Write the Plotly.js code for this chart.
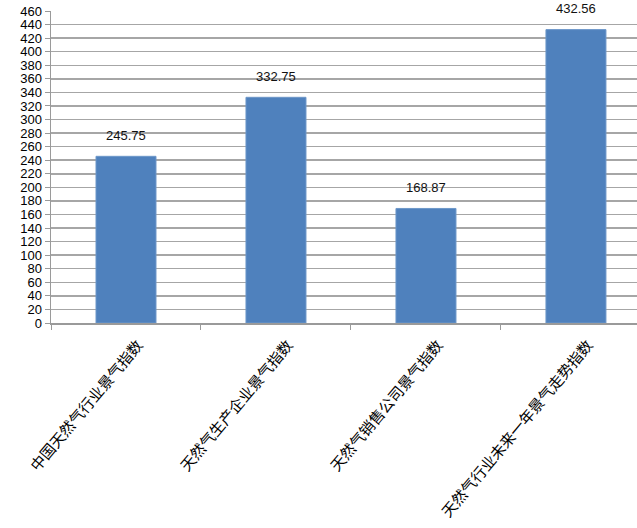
<!DOCTYPE html>
<html><head><meta charset="utf-8">
<script src="https://cdn.plot.ly/plotly-3.0.1.min.js"></script>
<style>html,body{margin:0;padding:0;background:#fff}</style>
</head><body><div id="chart" style="width:637px;height:528px"></div>
<script>
const categories = ["中国天然气行业景气指数","天然气生产企业景气指数","天然气销售公司景气指数","天然气行业未来一年景气走势指数"];
const values = [245.75, 332.75, 168.87, 432.56];
const valueLabels = ["245.75","332.75","168.87","432.56"];

const trace = {
  type: 'bar', x: categories, y: values, width: 0.4,
  marker: {color: '#4F81BD', line: {color: '#6d97c9', width: 1}},
  hoverinfo: 'none'
};
const annotations = categories.map((c, i) => ({
  x: c, y: values[i], text: valueLabels[i], showarrow: false, yshift: 21,
  font: {family: 'Liberation Sans, Arial', size: 13, color: '#111'}
}));
const layout = {
  width: 637, height: 528,
  margin: {l: 51, r: 0, t: 11, b: 205},
  paper_bgcolor: '#fff', plot_bgcolor: '#fff',
  showlegend: false,
  bargap: 0.6,
  xaxis: {
    type: 'category', range: [-0.5, 3.407],
    showline: true, linecolor: '#9a9a9a', linewidth: 1.5,
    ticks: 'outside', tickson: 'boundaries', ticklen: 5, tickcolor: '#9a9a9a',
    tickangle: -50, showgrid: false,
    ticklabelstandoff: 6, ticklabelshift: 12,
    tickfont: {family: 'Noto Sans CJK SC', size: 15, color: '#000'}
  },
  yaxis: {
    range: [0, 460], dtick: 20, tick0: 0,
    showline: true, linecolor: '#9a9a9a', linewidth: 1.5,
    ticks: 'outside', ticklen: 5, tickcolor: '#9a9a9a',
    showgrid: true, gridcolor: '#a6a6a6', gridwidth: 1.5,
    zeroline: false,
    tickfont: {family: 'Liberation Sans, Arial', size: 13, color: '#000'}
  },
  annotations: annotations
};
Plotly.newPlot('chart', [trace], layout, {displayModeBar: false, staticPlot: true});
</script></body></html>
